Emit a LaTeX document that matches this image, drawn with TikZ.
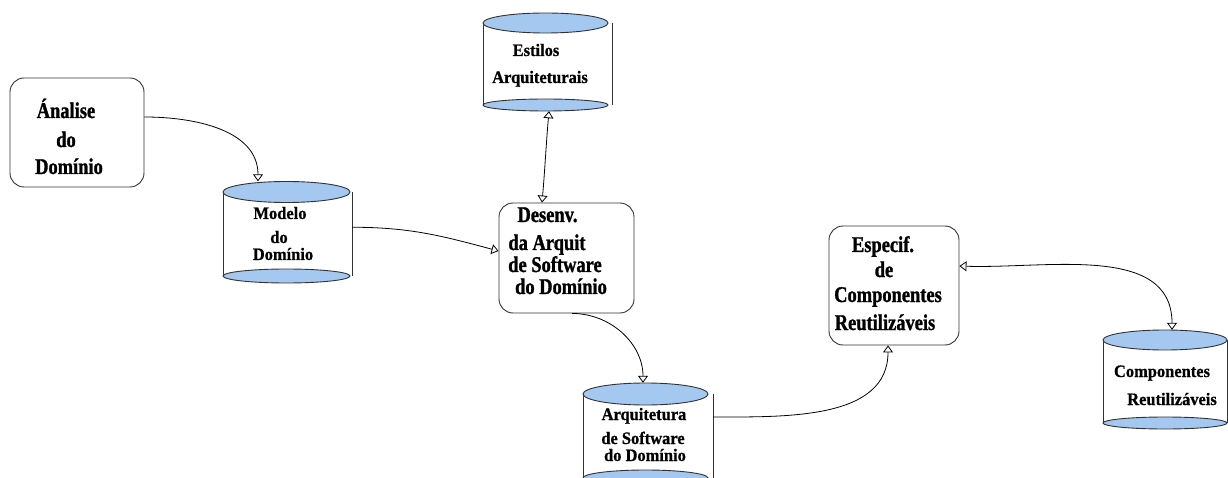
\documentclass[tikz,border=0pt]{standalone}
\usepackage{fontspec}
\setmainfont{Liberation Serif}
\newfontfamily\boxfont[FakeStretch=0.82, BoldFeatures={FakeBold=1.2}]{Liberation Serif}
\newfontfamily\cylfont[FakeStretch=0.94, BoldFeatures={FakeBold=0.8}]{Liberation Serif}
\usetikzlibrary{arrows.meta}
\definecolor{cylblue}{RGB}{164,200,240}
\definecolor{edgegray}{RGB}{50,50,50}
\tikzset{
  procbox/.style={draw=edgegray, line width=0.9pt, rounded corners=14pt, inner sep=0},
  cylcap/.style={draw=edgegray, fill=cylblue, line width=0.9pt},
  cylside/.style={draw=edgegray, line width=0.9pt},
  boxtext/.style={font=\boxfont\bfseries\fontsize{22.5}{26}\selectfont, inner sep=0, anchor=base},
  cyltext/.style={font=\cylfont\bfseries\fontsize{17.5}{22}\selectfont, inner sep=0, anchor=base},
  otri/.tip={Triangle[open, length=7pt, width=10pt]},
  conn/.style={draw=black, line width=0.8pt, -{otri}},
  dconn/.style={draw=black, line width=0.8pt, {otri}-{otri}},
}
% #1 name, #2 ellipse cx, #3 rx, #4 top cy, #5 top ry, #6 bottom cy, #7 bottom ry, #8 right line x
\newcommand\mycyl[8]{%
  \draw[cylside] ({#2-#3},#4) -- ({#2-#3},#6);
  \draw[cylside] (#8,#4) -- (#8,#6);
  \filldraw[cylcap] (#2,#6) ellipse [x radius=#3pt, y radius=#7pt];
  \filldraw[cylcap] (#2,#4) ellipse [x radius=#3pt, y radius=#5pt];
  \node[inner sep=0, minimum width={(#8-#2+#3)*1pt}, minimum height={(#6+#7-#4+#5)*1pt}]
    (#1) at ({(#2-#3+#8)/2},{(#4-#5+#6+#7)/2}) {};
}
\begin{document}
\begin{tikzpicture}[x=1pt,y=-1pt]
\useasboundingbox (0,0) rectangle (1228,478);
\clip (0,0) rectangle (1228,478);

% process boxes
\node[procbox, minimum width=134pt, minimum height=109pt] (analise) at (77,132.5) {};
\node[procbox, minimum width=135pt, minimum height=110pt] (desenv) at (566.5,258) {};
\node[procbox, minimum width=130pt, minimum height=119pt] (especif) at (894,285.5) {};

% cylinders
\mycyl{modelo}{286.5}{63.5}{192}{10.5}{276}{7}{352}
\mycyl{estilos}{545.5}{62.5}{23}{10}{105}{6}{612}
\mycyl{arquit}{645.5}{62.5}{394}{11}{478}{8}{713}
\mycyl{compon}{1165}{62}{340}{10}{423}{6}{1227}

% texts
\node[boxtext] (a1) at (66,118) {Ánalise};
\node[boxtext] (a2) at (66,147) {do};
\node[boxtext] (a3) at (69,174) {Domínio};

\node[cyltext] (m1) at (280,219) {Modelo};
\node[cyltext] (m2) at (279,243) {do};
\node[cyltext] (m3) at (283,260) {Domínio};

\node[cyltext] (e1) at (536,56) {Estilos};
\node[cyltext] (e2) at (540,83) {Arquiteturais};

\node[boxtext] (d1) at (547.5,222) {Desenv.};
\node[boxtext] (d2) at (547,250) {da Arquit};
\node[boxtext] (d3) at (555,272) {de Software};
\node[boxtext] (d4) at (561,294) {do Domínio};

\node[cyltext] (r1) at (644,420) {Arquitetura};
\node[cyltext] (r2) at (643,444) {de Software};
\node[cyltext] (r3) at (645,461) {do Domínio};

\node[boxtext] (s1) at (883,252) {Especif.};
\node[boxtext] (s2) at (884,277) {de};
\node[boxtext] (s3) at (888,302) {Componentes};
\node[boxtext] (s4) at (885,330) {Reutilizáveis};

\node[cyltext] (c1) at (1162,377) {Componentes};
\node[cyltext] (c2) at (1172,405) {Reutilizáveis};

% connectors
\draw[conn] ([yshift=15.5pt]analise.east) to[out=0, in=90] ([xshift=-29.5pt]modelo.north);
\draw[conn] ([yshift=5pt]modelo.east) to[out=0, in=165] ([yshift=7pt]desenv.west);
\draw[dconn] ([xshift=1.5pt]estilos.south) to[out=-95, in=85] ([xshift=-24.5pt]desenv.north);
\draw[conn] ([xshift=5.5pt]desenv.south) to[out=0, in=90] ([xshift=-5pt]arquit.north);
\draw[conn] ([yshift=17.5pt]arquit.east) to[out=0, in=-90] ([xshift=-6pt]especif.south);
\draw[dconn] ([yshift=19.5pt]especif.east) to[out=-2, in=90] ([xshift=7pt]compon.north);
\end{tikzpicture}
\end{document}
